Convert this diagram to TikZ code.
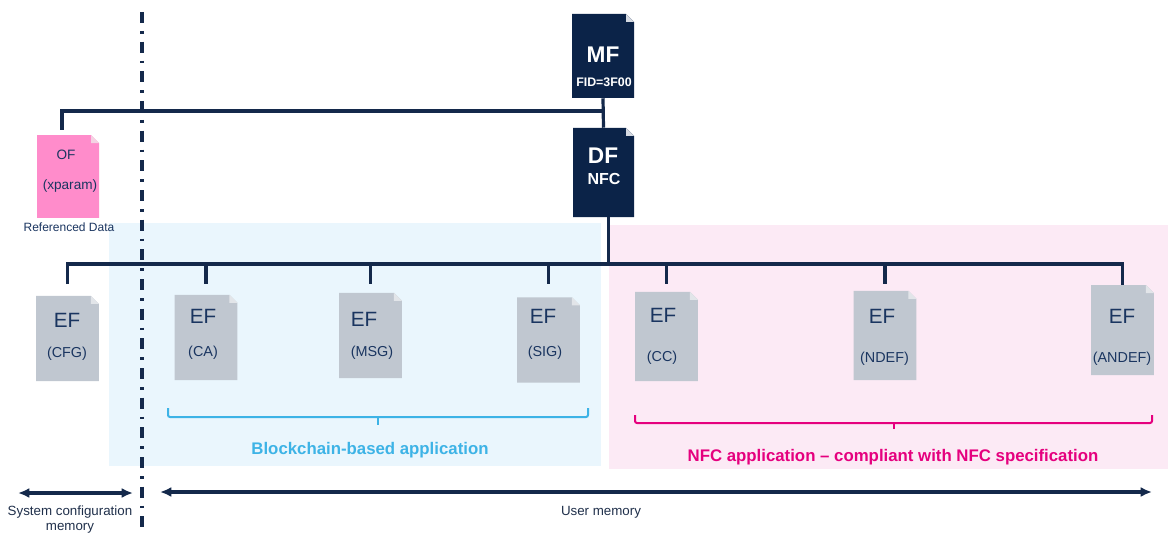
\documentclass[tikz,border=0pt]{standalone}
\usepackage{fontspec}
\setmainfont{Liberation Sans}
\usetikzlibrary{positioning}
\usetikzlibrary{arrows.meta}

\definecolor{navy}{HTML}{0B2348}
\definecolor{navyfold}{HTML}{D5DAE2}
\definecolor{linenavy}{HTML}{14294B}
\definecolor{efgray}{HTML}{C0C7D0}
\definecolor{effold}{HTML}{E2E5E9}
\definecolor{eftext}{HTML}{1A3560}
\definecolor{ofpink}{HTML}{FF8CCB}
\definecolor{ofpinkfold}{HTML}{F4D3E3}
\definecolor{bluebg}{HTML}{EAF6FD}
\definecolor{pinkbg}{HTML}{FCEAF5}
\definecolor{appblue}{HTML}{3DB3E6}
\definecolor{appmagenta}{HTML}{E5007E}
\definecolor{memtext}{HTML}{1F2F4A}

\begin{document}
\begin{tikzpicture}[x = 0.75pt, y = -0.75pt,
	docbox/.style 2 args = {inner sep = 0pt, path picture = {
		\fill [#1] (path picture bounding box.south west) -- (path picture bounding box.north west)
			-- ([xshift = -6pt]path picture bounding box.north east)
			-- ([yshift = -6pt]path picture bounding box.north east)
			-- (path picture bounding box.south east) -- cycle;
		\fill [#2] ([xshift = -6pt]path picture bounding box.north east)
			-- ([yshift = -6pt]path picture bounding box.north east)
			-- ([xshift = -6pt, yshift = -6pt]path picture bounding box.north east) -- cycle;}},
	navybox/.style = {docbox = {navy}{navyfold}, minimum width = 46.5pt, minimum height = 63pt},
	ofbox/.style = {docbox = {ofpink}{ofpinkfold}, minimum width = 46.5pt, minimum height = 62pt},
	efbox/.style = {docbox = {efgray}{effold}, minimum width = 47pt, minimum height = 64pt},
	bigname/.style = {anchor = base, inner sep = 0pt, text = white, font = \bfseries\fontsize{17}{20}\selectfont},
	subname/.style = {anchor = base, inner sep = 0pt, text = white, font = \bfseries\fontsize{#1}{14}\selectfont},
	eftitle/.style = {anchor = base, inner sep = 0pt, text = eftext, font = \fontsize{15.5}{18}\selectfont},
	eflabel/.style = {anchor = base, inner sep = 0pt, text = eftext, font = \fontsize{10.8}{13}\selectfont},
	oflabel/.style = {anchor = base, inner sep = 0pt, text = eftext, font = \fontsize{10.2}{12}\selectfont},
	apptext/.style = {inner sep = 0pt, font = \bfseries\fontsize{12.6}{15}\selectfont},
	memlabel/.style = {inner sep = 0pt, align = center, text = memtext, font = \fontsize{10}{11.25}\selectfont},
	link/.style = {draw = linenavy, line width = 2.4pt},
	memarrow/.style = {draw = linenavy, line width = 2.3pt, {Latex[length = 8.5pt, width = 7.5pt]}-{Latex[length = 8.5pt, width = 7.5pt]}},
	brace/.style = {line width = 1.5pt, rounded corners = 1.5pt}]

	\useasboundingbox (0, 0) rectangle (1168, 535);

	% application areas
	\fill [bluebg] (109, 223) rectangle (601, 466);
	\fill [pinkbg] (609, 225) rectangle (1168, 469);

	% file tree
	\node [navybox] (mf) at (603, 56) {};
	\node [bigname] (mf-t) at (603, 63) {MF};
	\node [subname = 9.3] (mf-fid) at (604, 87) {FID=3F00};

	\node [navybox, minimum width = 45.75pt, minimum height = 66.75pt] (df) at (603.5, 172.5) {};
	\node [bigname] (df-t) at (603, 163) {DF};
	\node [subname = 12] (df-nfc) at (604, 185) {NFC};

	\node [ofbox] (of) at (68, 176.5) {};
	\node [oflabel] (of-t) at (66, 159) {OF};
	\node [oflabel] (of-x) at (70, 190) {(xparam)};
	\node [inner sep = 0pt, text = eftext, font = \fontsize{9}{11}\selectfont] (of-ref) at (69, 227) {Referenced Data};

	\node [efbox] (cfg) at (67.5, 338.5) {};
	\node [eftitle] (cfg-t) at (67, 327) {EF};
	\node [eflabel] (cfg-l) at (67, 357) {(CFG)};

	\node [efbox] (ca) at (206, 337.5) {};
	\node [eftitle] (ca-t) at (203, 323) {EF};
	\node [eflabel] (ca-l) at (203, 356) {(CA)};

	\node [efbox] (msg) at (370.5, 335.5) {};
	\node [eftitle] (msg-t) at (364, 326) {EF};
	\node [eflabel] (msg-l) at (372, 356) {(MSG)};

	\node [efbox] (sig) at (548.5, 340) {};
	\node [eftitle] (sig-t) at (543, 323) {EF};
	\node [eflabel] (sig-l) at (545, 356) {(SIG)};

	\node [efbox, minimum height = 67pt] (cc) at (666.5, 336.5) {};
	\node [eftitle] (cc-t) at (663, 322) {EF};
	\node [eflabel] (cc-l) at (662, 361) {(CC)};

	\node [efbox, minimum height = 67pt] (ndef) at (885, 335.5) {};
	\node [eftitle] (ndef-t) at (882, 323) {EF};
	\node [eflabel] (ndef-l) at (884.5, 362) {(NDEF)};

	\node [efbox, minimum height = 67.5pt] (andef) at (1122.5, 330) {};
	\node [eftitle] (andef-t) at (1122, 323) {EF};
	\node [eflabel] (andef-l) at (1122, 362) {(ANDEF)};

	% links
	\coordinate (ofbus) at (0, 111);
	\coordinate (bus) at (0, 264);
	\coordinate (drop) at (0, 284);
	\draw [link] (mf.south) -- (df.north);
	\draw [link] (mf.south |- ofbus) -| ([xshift = -4.5pt, yshift = 3.75pt]of.north);
	\draw [link] ([xshift = 3.5pt]df.south) -- ([xshift = 3.5pt]df.south |- bus);
	\draw [link] (cfg.north |- drop) -- (cfg.north |- bus) -- (andef.north |- bus) -- (andef.north);
	\draw [link] (ca.north |- bus) -- (ca.north |- drop);
	\draw [link] (msg.north |- bus) -- (msg.north |- drop);
	\draw [link] (sig.north |- bus) -- (sig.north |- drop);
	\draw [link] (cc.north |- bus) -- (cc.north |- drop);
	\draw [link] (ndef.north |- bus) -- (ndef.north |- drop);

	% braces
	\draw [brace, appblue] (168, 408) -- (168, 417) -- (588, 417) -- (588, 408);
	\draw [brace, appblue] (378, 417) -- (378, 425);
	\node [apptext, text = appblue] (bc-app) at (370, 450) {Blockchain-based application};

	\draw [brace, appmagenta] (635, 415) -- (635, 423) -- (1152, 423) -- (1152, 415);
	\draw [brace, appmagenta] (894, 423) -- (894, 429);
	\node [apptext, text = appmagenta] (nfc-app) at (893, 457) {NFC application -- compliant with NFC specification};

	% memory split
	\coordinate (sep-top) at (142, 12);
	\coordinate (sep-bot) at (142, 527);
	\draw [linenavy, line width = 2.6pt, dash pattern = on 8.25pt off 6pt on 2pt off 6pt] (sep-top) -- (sep-bot);

	\coordinate (sys-l) at (18, 493);
	\coordinate (sys-r) at (133, 493);
	\coordinate (user-l) at (160, 492);
	\coordinate (user-r) at (1152, 492);
	\draw [memarrow] (sys-l) -- (sys-r);
	\draw [memarrow] (user-l) -- (user-r);
	\node [memlabel] (sys-mem) at (70, 519.5) {System configuration\\memory};
	\node [memlabel] (user-mem) at (601, 512) {User memory};
\end{tikzpicture}
\end{document}
